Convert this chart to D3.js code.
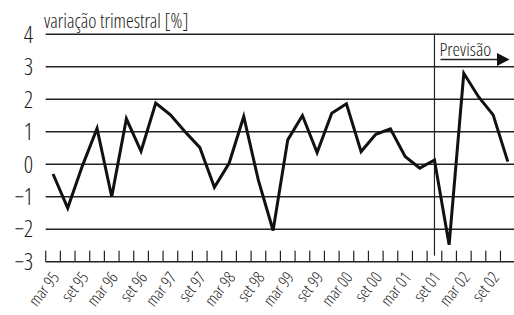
<!DOCTYPE html>
<html>
<head>
<meta charset="utf-8">
<script src="https://cdn.jsdelivr.net/npm/d3@7"></script>
<style>
  body { margin: 0; background: #fff; }
  text { font-family: "Open Sans", sans-serif; font-weight: 300; font-stretch: condensed; fill: #1a1a1a; }
</style>
</head>
<body>
<div id="chart"></div>
<script>
// Quarters shown on the x axis
const quarters = [
  "mar 95", "jun 95", "set 95", "dez 95",
  "mar 96", "jun 96", "set 96", "dez 96",
  "mar 97", "jun 97", "set 97", "dez 97",
  "mar 98", "jun 98", "set 98", "dez 98",
  "mar 99", "jun 99", "set 99", "dez 99",
  "mar 00", "jun 00", "set 00", "dez 00",
  "mar 01", "jun 01", "set 01", "dez 01",
  "mar 02", "jun 02", "set 02", "dez 02"
];
// quarterly change in %
const values = [
  -0.3, -1.35, -0.05, 1.1,
  -1.0, 1.4, 0.4, 1.88,
  1.52, 1.0, 0.52, -0.71,
  0.03, 1.47, -0.5, -2.04,
  0.75, 1.5, 0.36, 1.57,
  1.86, 0.39, 0.92, 1.09,
  0.24, -0.12, 0.13, -2.48,
  2.8, 2.08, 1.52, 0.08
];
const yTicks = [-3, -2, -1, 0, 1, 2, 3, 4];
const labelQuarters = quarters.filter(q => q.startsWith("mar") || q.startsWith("set"));
const forecastFrom = "set 01";
const yTitle = "variação trimestral [%]";
const forecastLabel = "Previsão";

const width = 514;
const height = 315;

const svg = d3.select("#chart")
  .append("svg")
  .attr("width", width)
  .attr("height", height);

const x = d3.scaleBand()
  .domain(quarters)
  .range([45.7, 45.7 + 32 * 14.67]);

const y = d3.scaleLinear()
  .domain([-3, 4])
  .range([261.7, 34.3]);

// horizontal gridlines
svg.append("g")
  .selectAll("line")
  .data(yTicks)
  .join("line")
  .attr("x1", x.range()[0])
  .attr("x2", width)
  .attr("y1", d => y(d))
  .attr("y2", d => y(d))
  .attr("stroke", "#222")
  .attr("stroke-width", 1.4);

// y labels
svg.append("g")
  .selectAll("text")
  .data(yTicks)
  .join("text")
  .attr("x", 33)
  .attr("y", d => y(d))
  .attr("dy", "0.36em")
  .attr("text-anchor", "end")
  .attr("font-size", 23)
  .text(d => d < 0 ? "\u2212" + Math.abs(d) : d);

// ticks on the base line, at each band edge
const edges = quarters.map(q => x(q)).concat([x(quarters[quarters.length - 1]) + x.bandwidth()]);
svg.append("g")
  .selectAll("line")
  .data(edges)
  .join("line")
  .attr("x1", d => d)
  .attr("x2", d => d)
  .attr("y1", y(-3))
  .attr("y2", y(-3) - 11)
  .attr("stroke", "#222")
  .attr("stroke-width", 1.2);

// x labels (rotated)
svg.append("g")
  .selectAll("text")
  .data(labelQuarters)
  .join("text")
  .attr("text-anchor", "end")
  .attr("font-size", 16.5)
  .attr("transform", d => `translate(${x(d) + x.bandwidth() / 2 + 7}, ${y(-3) + 16}) rotate(-52)`)
  .text(d => d);

// forecast divider
const fx = x(forecastFrom) + x.bandwidth() / 2;
svg.append("line")
  .attr("x1", fx).attr("x2", fx)
  .attr("y1", y(4)).attr("y2", y(-3) - 6)
  .attr("stroke", "#222")
  .attr("stroke-width", 1.2);

// data line
const line = d3.line()
  .x((d, i) => x(quarters[i]) + x.bandwidth() / 2)
  .y(d => y(d));

svg.append("path")
  .datum(values)
  .attr("d", line)
  .attr("fill", "none")
  .attr("stroke", "#111")
  .attr("stroke-width", 3)
  .attr("stroke-linejoin", "miter");

// title
svg.append("text")
  .attr("x", 44)
  .attr("y", 28)
  .attr("font-size", 19.5)
  .text(yTitle);

// forecast label with arrow
svg.append("text")
  .attr("x", fx + 5)
  .attr("y", 56)
  .attr("font-size", 19)
  .text(forecastLabel);
svg.append("line")
  .attr("x1", fx + 6).attr("x2", 498)
  .attr("y1", 59.5).attr("y2", 59.5)
  .attr("stroke", "#222")
  .attr("stroke-width", 1.4);
svg.append("path")
  .attr("d", "M497,53 L509.5,59.5 L497,66 Z")
  .attr("fill", "#111");
</script>
</body>
</html>
